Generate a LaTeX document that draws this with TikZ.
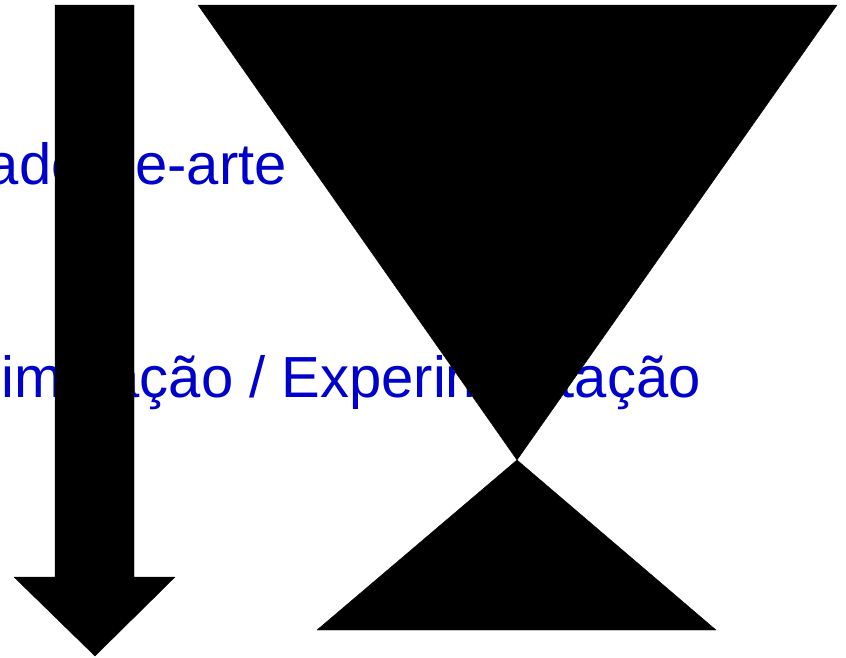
\documentclass[tikz,border=0pt]{standalone}
\usepackage{fontspec}
\setmainfont{Liberation Sans}
\usepackage{xcolor}
\usepackage{tikz}
\usetikzlibrary{positioning}
\definecolor{meuazul}{RGB}{0, 0, 204}

\begin{document}
\begin{tikzpicture}[x=1pt, y=-1pt,
    etapa/.style={text=meuazul, inner sep=0pt, font=\fontsize{58}{62}\selectfont},
    bloco/.style={draw=black, fill=black, line join=round, thin}
]
    % Frame
    \clip (0,0) rectangle (846,657);

    % Texts
    \node[etapa, anchor=base east] (estado) at (287,184) {Estado-de-arte};
    \node[etapa, anchor=base east] (simul) at (701,397) {Simulação / Experimentação};

    % Arrow
    \draw[bloco] (55,5) -- (134,5) -- (134,577) -- (175,577) -- (95,656)
        -- (14,577) -- (55,577) -- cycle;

    % Funnel
    \coordinate (centro) at (517,460);
    \draw[bloco] (198,5) -- (837,5) -- (centro) -- cycle;
    \draw[bloco] (centro) -- (716,630) -- (317,630) -- cycle;
\end{tikzpicture}
\end{document}
